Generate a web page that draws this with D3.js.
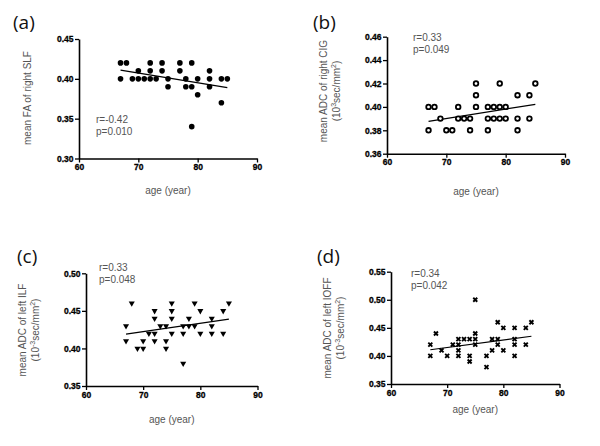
<!DOCTYPE html>
<html>
<head>
<meta charset="utf-8">
<script src="https://cdn.jsdelivr.net/npm/d3@7"></script>
<style>
  body { margin: 0; background: #fff; }
  svg { display: block; }
  .tick text { font-family: "Liberation Sans", Arial, sans-serif; font-weight: bold; font-size: 8.5px; fill: #000; stroke: #000; stroke-width: 0.3px; }
  .lbl { font-family: "Liberation Sans", Arial, sans-serif; font-size: 10px; fill: #555; }
  .panel { font-family: "Open Sans", sans-serif; font-size: 19px; fill: #111; }
</style>
</head>
<body>
<div id="container"></div>
<script>
/* DATA */
const ageTicks = [60, 70, 80, 90];

// (a) mean FA of right SLF
const ageA = [67, 68, 72, 74, 77, 79, 70, 72, 74, 77, 82, 67, 69, 70, 71, 72, 73, 75, 78, 80, 82, 84, 85, 75, 78, 79, 82, 80, 84, 79];
const faA  = [0.42, 0.42, 0.42, 0.42, 0.42, 0.42, 0.41, 0.41, 0.41, 0.41, 0.41, 0.40, 0.40, 0.40, 0.40, 0.40, 0.40, 0.40, 0.40, 0.40, 0.40, 0.40, 0.40, 0.39, 0.39, 0.39, 0.39, 0.38, 0.37, 0.34];
const fitA = [[67, 0.411], [85, 0.389]];
const ticksA = [0.30, 0.35, 0.40, 0.45];

// (b) mean ADC of right CIG
const ageB = [75, 79, 85, 75, 82, 84, 67, 68, 72, 75, 77, 78, 79, 80, 69, 72, 73, 74, 77, 78, 79, 80, 82, 84, 67, 70, 71, 74, 77, 82];
const adcB = [0.42, 0.42, 0.42, 0.41, 0.41, 0.41, 0.40, 0.40, 0.40, 0.40, 0.40, 0.40, 0.40, 0.40, 0.39, 0.39, 0.39, 0.39, 0.39, 0.39, 0.39, 0.39, 0.39, 0.39, 0.38, 0.38, 0.38, 0.38, 0.38, 0.38];
const fitB = [[67, 0.3877], [85, 0.4022]];
const ticksB = [0.36, 0.38, 0.40, 0.42, 0.44, 0.46];

// (c) mean ADC of left ILF
const ageC = [68, 75, 79, 85, 72, 75, 80, 84, 72, 75, 78, 82, 67, 73, 74, 77, 78, 79, 82, 71, 72, 75, 77, 80, 82, 84, 67, 70, 72, 74, 69, 70, 74, 77];
const adcC = [0.46, 0.46, 0.46, 0.46, 0.45, 0.45, 0.45, 0.45, 0.44, 0.44, 0.44, 0.44, 0.43, 0.43, 0.43, 0.43, 0.43, 0.43, 0.43, 0.42, 0.42, 0.42, 0.42, 0.42, 0.42, 0.42, 0.41, 0.41, 0.41, 0.41, 0.40, 0.40, 0.40, 0.38];
const fitC = [[67, 0.419], [85, 0.439]];
const ticksC = [0.35, 0.40, 0.45, 0.50];

// (d) mean ADC of left IOFF
const ageD = [75, 79, 85, 80, 82, 84, 68, 75, 72, 73, 74, 75, 78, 79, 82, 67, 71, 72, 75, 79, 82, 84, 69, 72, 78, 80, 67, 70, 72, 74, 77, 82, 74, 77];
const adcD = [0.50, 0.46, 0.46, 0.45, 0.45, 0.45, 0.44, 0.44, 0.43, 0.43, 0.43, 0.43, 0.43, 0.43, 0.43, 0.42, 0.42, 0.42, 0.42, 0.42, 0.42, 0.42, 0.41, 0.41, 0.41, 0.41, 0.40, 0.40, 0.40, 0.40, 0.40, 0.40, 0.39, 0.38];
const fitD = [[67, 0.411], [85, 0.435]];
const ticksD = [0.35, 0.40, 0.45, 0.50, 0.55];

/* LAYOUT */
const svg = d3.select("#container").append("svg")
  .attr("width", 600).attr("height", 446)
  .style("background-color", "#ffffff");

const panels = [
  { tag: "(a)", tagX: 13, tagY: 29, xs: ageA, ys: faA, fit: fitA, ticks: ticksA,
    x0: 79, x1: 257, yTop: 39, yBot: 158.5, marker: "dot",
    yTitle: ["mean FA of right SLF"], yTitleX: [31], yMid: 98,
    stats: ["r=-0.42", "p=0.010"], statX: 96, statY: 123, xTitleY: 194 },
  { tag: "(b)", tagX: 313, tagY: 29, xs: ageB, ys: adcB, fit: fitB, ticks: ticksB,
    x0: 387, x1: 565, yTop: 36.7, yBot: 153.7, marker: "ring",
    yTitle: ["mean ADC of right CIG", "b"], yTitleX: [326.5, 339.5], yMid: 91,
    stats: ["r=0.33", "p=0.049"], statX: 413, statY: 41, xTitleY: 195 },
  { tag: "(c)", tagX: 17, tagY: 263, xs: ageC, ys: adcC, fit: fitC, ticks: ticksC,
    x0: 86, x1: 257.5, yTop: 273.3, yBot: 386, marker: "tri",
    yTitle: ["mean ADC of left ILF", "c"], yTitleX: [25.5, 38.5], yMid: 330,
    stats: ["r=0.33", "p=0.048"], statX: 99, statY: 271, xTitleY: 423 },
  { tag: "(d)", tagX: 317, tagY: 263, xs: ageD, ys: adcD, fit: fitD, ticks: ticksD,
    x0: 391, x1: 559.5, yTop: 271.7, yBot: 384, marker: "cross",
    yTitle: ["mean ADC of left IOFF", "d"], yTitleX: [330.5, 343.5], yMid: 328,
    stats: ["r=0.34", "p=0.042"], statX: 411, statY: 277, xTitleY: 413 }
];

panels.forEach(p => {
  const x = d3.scaleLinear().domain([60, 90]).range([p.x0, p.x1]);
  const y = d3.scaleLinear().domain(d3.extent(p.ticks)).range([p.yBot, p.yTop]);
  const g = svg.append("g");

  g.append("text").attr("class", "panel").attr("x", p.tagX).attr("y", p.tagY).text(p.tag);

  // axes
  const xa = g.append("g").attr("transform", `translate(0,${p.yBot})`)
    .call(d3.axisBottom(x).tickValues(ageTicks).tickSize(4).tickSizeOuter(0).tickPadding(1.5));
  const ya = g.append("g").attr("transform", `translate(${p.x0},0)`)
    .call(d3.axisLeft(y).tickValues(p.ticks).tickFormat(d3.format(".2f")).tickSize(4).tickSizeOuter(0).tickPadding(1.5));
  [xa, ya].forEach(a => {
    a.select(".domain").attr("stroke", "#000").attr("stroke-width", 1.6);
    a.selectAll(".tick line").attr("stroke", "#000").attr("stroke-width", 1.3);
  });

  // regression line
  g.append("path")
    .attr("d", d3.line().x(d => x(d[0])).y(d => y(d[1]))(p.fit))
    .attr("fill", "none").attr("stroke", "#000").attr("stroke-width", 1.2);

  // points
  const pts = g.append("g").selectAll("g").data(p.xs.map((a, i) => [a, p.ys[i]])).join("g")
    .attr("transform", d => `translate(${x(d[0])},${y(d[1])})`);
  if (p.marker === "dot") {
    pts.append("circle").attr("r", 2.8).attr("fill", "#000");
  } else if (p.marker === "ring") {
    pts.append("circle").attr("r", 2.3).attr("fill", "#fff").attr("stroke", "#000").attr("stroke-width", 1.8);
  } else if (p.marker === "tri") {
    pts.append("path").attr("d", d3.symbol(d3.symbolTriangle, 16)())
      .attr("transform", "rotate(180)").attr("fill", "#000");
  } else {
    pts.append("path").attr("d", "M-2,-2L2,2M-2,2L2,-2")
      .attr("stroke", "#000").attr("stroke-width", 1.9).attr("fill", "none");
  }

  // stats
  p.stats.forEach((s, i) => {
    g.append("text").attr("class", "lbl").attr("x", p.statX).attr("y", p.statY + i * 11.5).text(s);
  });

  // x title
  g.append("text").attr("class", "lbl").attr("text-anchor", "middle")
    .attr("x", (p.x0 + p.x1) / 2).attr("y", p.xTitleY).text("age (year)");

  // y title
  g.append("text").attr("class", "lbl").attr("text-anchor", "middle")
    .attr("transform", `translate(${p.yTitleX[0]},${p.yMid}) rotate(-90)`).text(p.yTitle[0]);
  if (p.yTitle.length > 1) {
    const t = g.append("text").attr("class", "lbl").attr("text-anchor", "middle")
      .attr("transform", `translate(${p.yTitleX[1]},${p.yMid}) rotate(-90)`);
    t.append("tspan").text("(10");
    t.append("tspan").attr("font-size", "7px").attr("dy", -4).text(p.yTitle[1] === "b" ? "3" : "-3");
    t.append("tspan").attr("dy", 4).text("sec/mm");
    t.append("tspan").attr("font-size", "7px").attr("dy", -4).text("2");
    t.append("tspan").attr("dy", 4).text(")");
  }
});
</script>
</body>
</html>
